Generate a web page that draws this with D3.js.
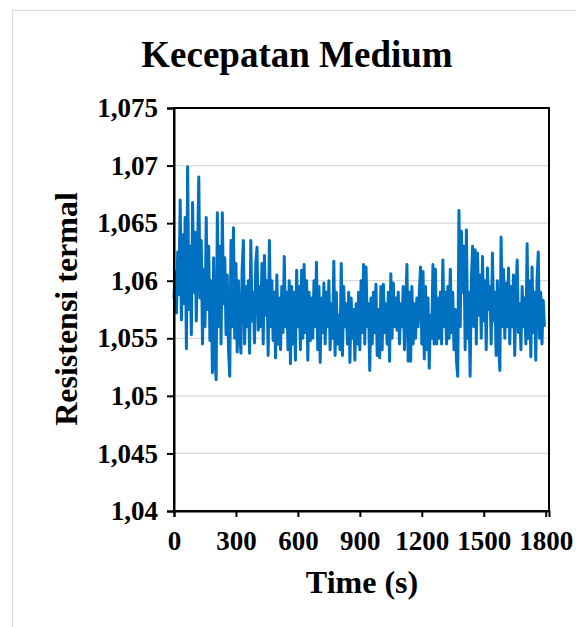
<!DOCTYPE html>
<html><head><meta charset="utf-8">
<script src="https://cdn.jsdelivr.net/npm/d3@7"></script>
<style>body{margin:0;background:#fff}svg{display:block}text{font-family:"Liberation Serif","Times New Roman",serif;font-weight:bold;fill:#000}</style>
</head><body>
<script>
const title = "Kecepatan Medium";
const xTitle = "Time (s)";
const yTitle = "Resistensi termal";
const xTicks = [0, 300, 600, 900, 1200, 1500, 1800];
const yTicks = [1.04, 1.045, 1.05, 1.055, 1.06, 1.065, 1.07, 1.075];
const sampleStep = 6; // seconds between samples
const resistance = [
1.0585,1.0608,1.0572,1.0625,1.0588,1.0670,1.0566,1.0640,1.0580,1.0655,1.0541,1.0699,1.0575,1.0630,1.0553,1.0668,1.0590,1.0642,1.0565,1.0620,
1.0690,1.0585,1.0635,1.0545,1.0610,1.0560,1.0655,1.0575,1.0630,1.0548,1.0600,1.0520,1.0620,1.0535,1.0514,1.0659,1.0560,1.0630,1.0545,1.0659,
1.0580,1.0620,1.0553,1.0605,1.0540,1.0517,1.0635,1.0560,1.0646,1.0550,1.0615,1.0538,1.0600,1.0555,1.0537,1.0610,1.0635,1.0545,1.0595,1.0560,
1.0600,1.0537,1.0635,1.0565,1.0590,1.0546,1.0615,1.0629,1.0557,1.0595,1.0560,1.0615,1.0545,1.0622,1.0570,1.0600,1.0535,1.0635,1.0560,1.0600,
1.0548,1.0590,1.0533,1.0605,1.0545,1.0585,1.0540,1.0595,1.0555,1.0621,1.0560,1.0590,1.0540,1.0600,1.0528,1.0595,1.0545,1.0590,1.0531,1.0609,
1.0560,1.0595,1.0540,1.0609,1.0550,1.0614,1.0555,1.0600,1.0531,1.0590,1.0548,1.0585,1.0550,1.0600,1.0560,1.0616,1.0540,1.0595,1.0529,1.0585,
1.0555,1.0598,1.0545,1.0590,1.0560,1.0600,1.0540,1.0580,1.0550,1.0617,1.0535,1.0590,1.0545,1.0570,1.0540,1.0615,1.0535,1.0595,1.0560,1.0580,
1.0545,1.0590,1.0529,1.0585,1.0550,1.0575,1.0531,1.0580,1.0545,1.0590,1.0540,1.0600,1.0555,1.0614,1.0545,1.0612,1.0560,1.0580,1.0522,1.0585,
1.0545,1.0590,1.0555,1.0597,1.0535,1.0575,1.0533,1.0595,1.0540,1.0597,1.0555,1.0580,1.0545,1.0590,1.0530,1.0606,1.0550,1.0598,1.0560,1.0585,
1.0557,1.0590,1.0545,1.0580,1.0560,1.0595,1.0540,1.0575,1.0614,1.0530,1.0590,1.0530,1.0595,1.0545,1.0580,1.0550,1.0585,1.0560,1.0590,1.0612,
1.0545,1.0608,1.0532,1.0595,1.0540,1.0585,1.0524,1.0570,1.0550,1.0614,1.0545,1.0610,1.0545,1.0585,1.0550,1.0590,1.0545,1.0618,1.0560,1.0590,
1.0545,1.0595,1.0550,1.0610,1.0555,1.0590,1.0540,1.0575,1.0530,1.0517,1.0661,1.0560,1.0643,1.0590,1.0630,1.0540,1.0644,1.0550,1.0590,1.0517,
1.0600,1.0630,1.0560,1.0627,1.0545,1.0624,1.0570,1.0605,1.0550,1.0621,1.0565,1.0600,1.0540,1.0611,1.0575,1.0595,1.0545,1.0624,1.0565,1.0590,
1.0535,1.0600,1.0545,1.0522,1.0638,1.0560,1.0610,1.0550,1.0598,1.0560,1.0611,1.0545,1.0595,1.0560,1.0605,1.0535,1.0590,1.0618,1.0555,1.0580,
1.0540,1.0595,1.0560,1.0585,1.0545,1.0632,1.0550,1.0600,1.0534,1.0612,1.0555,1.0590,1.0531,1.0600,1.0625,1.0550,1.0590,1.0545,1.0583,1.0560
];

const W = 576, H = 627;
const m = {left: 174, right: 549, top: 108, bottom: 511};
const svg = d3.select("body").append("svg").attr("width", W).attr("height", H);

// outer chart border
svg.append("rect").attr("x", 12.5).attr("y", 10.5).attr("width", 570).attr("height", 630)
  .attr("fill", "none").attr("stroke", "#d9d9d9").attr("stroke-width", 1);

const x = d3.scaleLinear().domain([0, 1816]).range([m.left, m.right]);
const y = d3.scaleLinear().domain([1.04, 1.075]).range([m.bottom, m.top]);
const fmt = v => d3.format("~g")(v).replace(".", ",");

// gridlines
svg.append("g").selectAll("line").data(yTicks.slice(1, -1)).join("line")
  .attr("x1", m.left).attr("x2", m.right)
  .attr("y1", d => y(d)).attr("y2", d => y(d))
  .attr("stroke", "#d9d9d9").attr("stroke-width", 1.3);

// line
const data = resistance.map((v, i) => [i * sampleStep, v]);
svg.append("path").datum(data)
  .attr("fill", "none").attr("stroke", "#0070C0").attr("stroke-width", 3)
  .attr("stroke-linejoin", "round")
  .attr("d", d3.line().x(d => x(d[0])).y(d => y(d[1])));

// plot border
svg.append("rect").attr("x", m.left).attr("y", m.top)
  .attr("width", m.right - m.left).attr("height", m.bottom - m.top)
  .attr("fill", "none").attr("stroke", "#000").attr("stroke-width", 2);

// axes
const xAxis = svg.append("g").attr("transform", `translate(0,${m.bottom})`)
  .call(d3.axisBottom(x).tickValues(xTicks).tickSize(6).tickPadding(14).tickFormat(d3.format("d")));
const yAxis = svg.append("g").attr("transform", `translate(${m.left},0)`)
  .call(d3.axisLeft(y).tickValues(yTicks).tickSize(7).tickPadding(9).tickFormat(fmt));
[xAxis, yAxis].forEach(g => {
  g.select(".domain").attr("stroke", "#000").attr("stroke-width", 2);
  g.selectAll(".tick line").attr("stroke", "#000").attr("stroke-width", 2);
  g.selectAll(".tick text").attr("font-family", "Liberation Serif").attr("font-weight", "bold")
    .attr("font-size", 27).attr("fill", "#000");
});

svg.append("text").attr("x", 297).attr("y", 67).attr("text-anchor", "middle")
  .attr("font-size", 37).text(title);
svg.append("text").attr("x", 362).attr("y", 593).attr("text-anchor", "middle")
  .attr("font-size", 32).text(xTitle);
svg.append("text").attr("transform", "translate(77,309) rotate(-90)").attr("text-anchor", "middle")
  .attr("font-size", 32).text(yTitle);
</script>
</body></html>
